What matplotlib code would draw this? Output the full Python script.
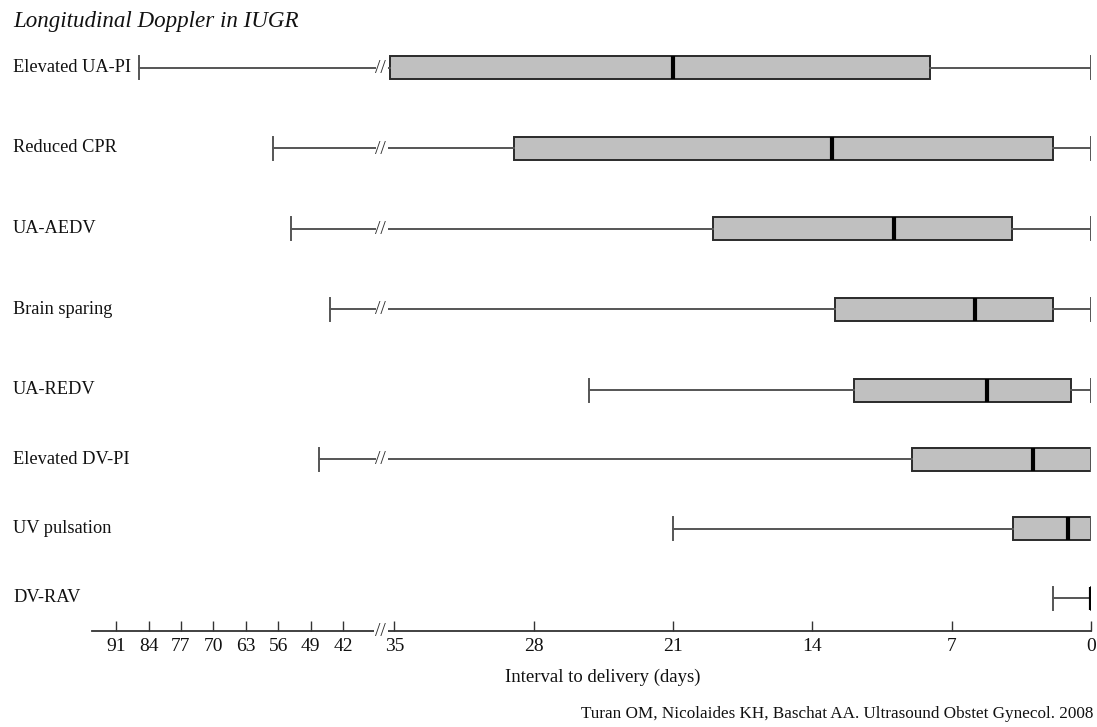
import numpy as np
import matplotlib.pyplot as plt
from matplotlib.patches import Rectangle
from matplotlib.transforms import blended_transform_factory

# data: days before delivery
labels = ["Elevated UA-PI", "Reduced CPR", "UA-AEDV", "Brain sparing",
          "UA-REDV", "Elevated DV-PI", "UV pulsation", "DV-RAV"]
whis_hi = [86.0, 57.1, 53.3, 44.85, 25.2, 47.2, 21.0, 1.9]
box_hi = [35.2, 29.0, 19.0, 12.85, 11.9, 9.0, 3.9, 0.0]
median = [21.0, 13.0, 9.9, 5.85, 5.2, 2.9, 1.15, 0.0]
box_lo = [8.1, 1.9, 3.95, 1.9, 1.0, 0.0, 0.0, 0.0]
whis_lo = [0, 0, 0, 0, 0, 0, 0, 0]
tick_days = [91, 84, 77, 70, 63, 56, 49, 42, 35, 28, 21, 14, 7, 0]

# layout (row centres in pixels from top)
row_y = [67.5, 148, 228.5, 309, 390, 459, 528.5, 598]

# broken axis: linear up to 35 days, compressed beyond
G = 1.17
K = 0.2328


def fwd(d):
    d = np.asarray(d, dtype=float)
    return np.where(d <= 35, d,
                    np.where(d <= 36, 35 + (d - 35) * G, 35 + G + (d - 36) * K))


def inv(p):
    p = np.asarray(p, dtype=float)
    return np.where(p <= 35, p,
                    np.where(p <= 35 + G, 35 + (p - 35) / G, 36 + (p - 35 - G) / K))


W, H = 1097, 727
fig = plt.figure(figsize=(W / 100, H / 100), dpi=100)
plt.rcParams['font.family'] = ['Liberation Serif', 'DejaVu Serif']
ax = fig.add_axes([92 / W, 1 - 631 / H, 999 / W, (631 - 40) / H])
ax.set_xscale('function', functions=(fwd, inv))
ax.set_xlim(96.2, 0)
ax.set_ylim(631, 40)

stats = []
for i in range(len(labels)):
    stats.append(dict(med=median[i], q1=box_lo[i], q3=box_hi[i],
                      whislo=whis_lo[i], whishi=whis_hi[i], fliers=[]))

ax.bxp(stats, positions=row_y, widths=23, capwidths=23, orientation='horizontal',
       patch_artist=True, manage_ticks=False, showfliers=False,
       boxprops=dict(facecolor='#c0c0c0', edgecolor='#2a2a2a', linewidth=1.4),
       medianprops=dict(color='black', linewidth=3),
       whiskerprops=dict(color='#555555', linewidth=1.4),
       capprops=dict(color='#555555', linewidth=1.4))

# whisker breaks
for i, y in enumerate(row_y):
    if whis_hi[i] > 36:
        ax.add_patch(Rectangle((35.28, y - 5), 35.8 - 35.28, 10, facecolor='white',
                               edgecolor='none', zorder=4))
        ax.text(35.6, y + 1, "//", ha='center', va='center', fontsize=14,
                color='#333333', zorder=5)

# axis break
ax.add_patch(Rectangle((35.25, 631 - 5), 35.85 - 35.25, 10, facecolor='white',
                       edgecolor='none', zorder=4, clip_on=False))
ax.text(35.58, 632, "//", ha='center', va='center', fontsize=14, color='#333333',
        zorder=5, clip_on=False)

for s in ['left', 'top', 'right']:
    ax.spines[s].set_visible(False)
ax.spines['bottom'].set_color('#333333')
ax.spines['bottom'].set_linewidth(1.3)
ax.set_yticks([])
ax.set_xticks(tick_days)
ax.set_xticklabels([str(t) for t in tick_days])
ax.tick_params(axis='x', direction='in', length=7.5, width=1, color='#333333',
               labelsize=14, pad=5, labelcolor='#111111')

fig.text(603 / W, 1 - 677 / H, "Interval to delivery (days)", fontsize=13.5,
         ha='center', va='center', color='#111111')

tr = blended_transform_factory(fig.transFigure, ax.transData)
for lab, y in zip(labels, row_y):
    ax.text(13 / W, y, lab, transform=tr, ha='left', va='center', fontsize=13.2,
            color='#111111')

fig.text(13 / W, 1 - 21 / H, "Longitudinal Doppler in IUGR", fontsize=16.6,
         style='italic', ha='left', va='center', color='#111111')
fig.text(1093 / W, 1 - 714 / H,
         "Turan OM, Nicolaides KH, Baschat AA. Ultrasound Obstet Gynecol. 2008",
         fontsize=12.3, ha='right', va='center', color='#111111')

fig.savefig("out.png", dpi=100)
